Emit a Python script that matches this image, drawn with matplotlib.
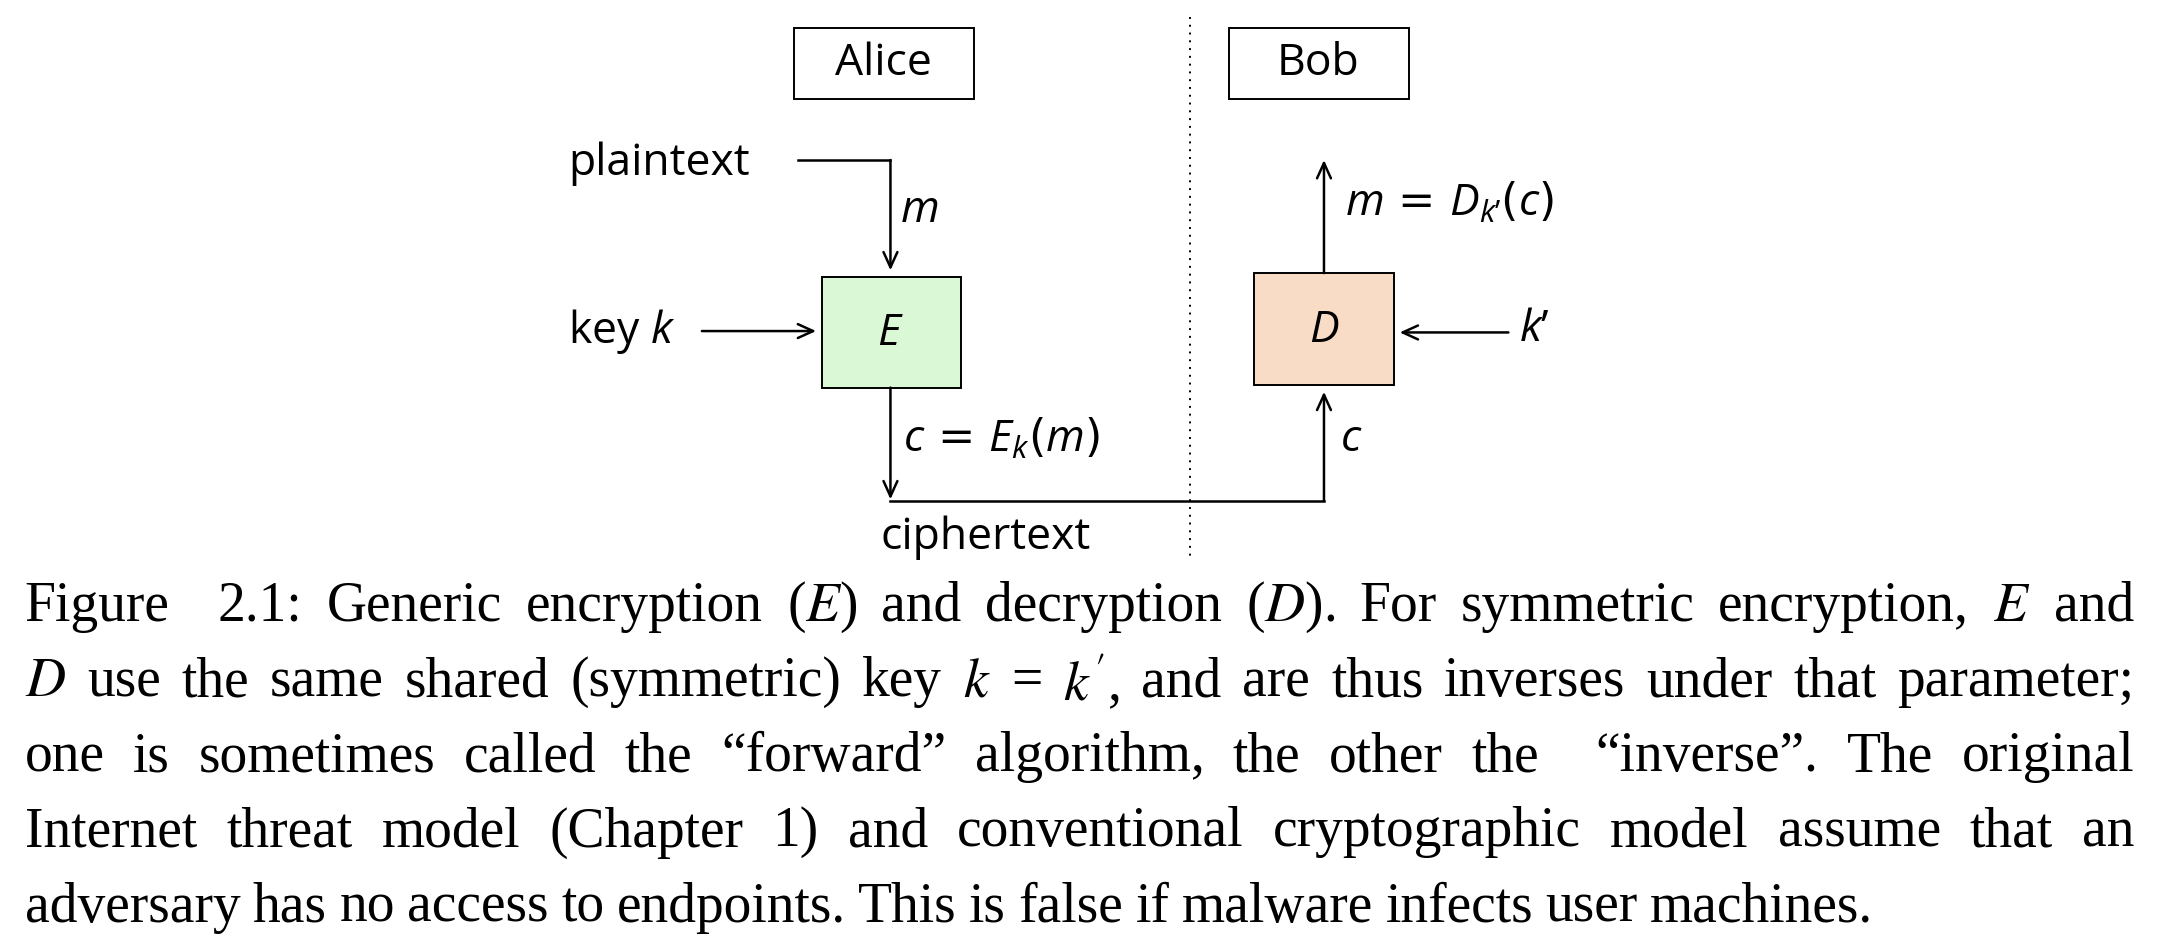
import matplotlib as mpl
import matplotlib.pyplot as plt
from matplotlib.patches import Rectangle

mpl.rcParams.update({
    "mathtext.fontset": "custom",
    "mathtext.rm": "Open Sans",
    "mathtext.it": "Open Sans:italic",
})

W, H = 1568, 680
SANS = "Open Sans"
FS = 32

party_names = ["Alice", "Bob"]
caption_lines = [
    "Figure 2.1:  Generic encryption ($E$) and decryption ($D$). For symmetric encryption, $E$ and",
    "$D$ use the same shared (symmetric) key $k$ = $k'$, and are thus inverses under that parameter;",
    "one is sometimes called the \u201cforward\u201d algorithm, the other the \u201cinverse\u201d.  The original",
    "Internet threat model (Chapter 1) and conventional cryptographic model assume that an",
    "adversary has no access to endpoints. This is false if malware infects user machines.",
]

fig = plt.figure(figsize=(21.58, 9.38), dpi=100)
ax = fig.add_axes([0, 0, 1, 1])
ax.set_xlim(0, W)
ax.set_ylim(H, 0)
ax.axis("off")

arrow = dict(arrowstyle="->,head_length=1.1,head_width=0.5", lw=1.8, color="black",
             shrinkA=0, shrinkB=0)

# party boxes
for name, x0 in zip(party_names, [577, 893]):
    ax.add_patch(Rectangle((x0, 20), 131, 52, fill=False, lw=1.4, ec="black"))
    ax.text(x0 + 65, 46, name, ha="center", va="center", fontsize=FS, family=SANS)

ax.plot([865, 865], [12, 405], ls=(0, (1, 3)), color="black", lw=1.4)

# encryption box
ax.add_patch(Rectangle((597, 201), 101, 80, fc="#daf8d6", ec="black", lw=1.4))
ax.text(647, 241, "$E$", ha="center", va="center", fontsize=FS)
# decryption box
ax.add_patch(Rectangle((911, 198), 102, 81, fc="#f9dcc5", ec="black", lw=1.4))
ax.text(962, 239, "$D$", ha="center", va="center", fontsize=FS)

ax.text(413, 119, "plaintext", ha="left", va="center", fontsize=FS, family=SANS)
ax.plot([580, 647], [116, 116], color="black", lw=1.8)
ax.annotate("", xy=(647, 196), xytext=(647, 116), arrowprops=arrow)
ax.text(654, 152, "$m$", ha="left", va="center", fontsize=FS)

ax.text(413, 240, "key $k$", ha="left", va="center", fontsize=FS, family=SANS)
ax.annotate("", xy=(593, 240), xytext=(510, 240), arrowprops=arrow)

ax.annotate("", xy=(647, 362), xytext=(647, 281), arrowprops=arrow)
ax.text(656, 318, "$c$ = $E_k$($m$)", ha="left", va="center", fontsize=FS)
ax.plot([647, 962], [363, 363], color="black", lw=1.8)
ax.annotate("", xy=(962, 284), xytext=(962, 363), arrowprops=arrow)
ax.text(974, 318, "$c$", ha="left", va="center", fontsize=FS)
ax.text(640, 390, "ciphertext", ha="left", va="center", fontsize=FS, family=SANS)

ax.annotate("", xy=(1017, 241), xytext=(1096, 241), arrowprops=arrow)
ax.text(1104, 239, "$k$\u2019", ha="left", va="center", fontsize=FS, family=SANS)
ax.annotate("", xy=(962, 116), xytext=(962, 198), arrowprops=arrow)
ax.text(977, 147, "$m$ = $D_{k\u2019}$($c$)", ha="left", va="center", fontsize=FS)

# caption, justified
renderer = fig.canvas.get_renderer()
scale = W / fig.bbox.width
left, right = 18, 1551
for i, line in enumerate(caption_lines):
    y = 440 + i * 54.5
    parts = line.split(" ")
    texts = [ax.text(0, y, w, ha="left", va="center", fontsize=40,
                     family="Liberation Serif", math_fontfamily="stix") for w in parts if w != ""]
    widths = [t.get_window_extent(renderer).width * scale for t in texts]
    gaps_w = []
    for j, p in enumerate(parts):
        if p == "":
            gaps_w[-1] += 1
        elif j > 0:
            gaps_w.append(1)
    if i == len(caption_lines) - 1:
        unit = 9
    else:
        unit = (right - left - sum(widths)) / sum(gaps_w)
    x = left
    for j, t in enumerate(texts):
        t.set_x(x)
        x += widths[j]
        if j < len(gaps_w):
            x += unit * gaps_w[j]

fig.savefig("out.png", dpi=100)
